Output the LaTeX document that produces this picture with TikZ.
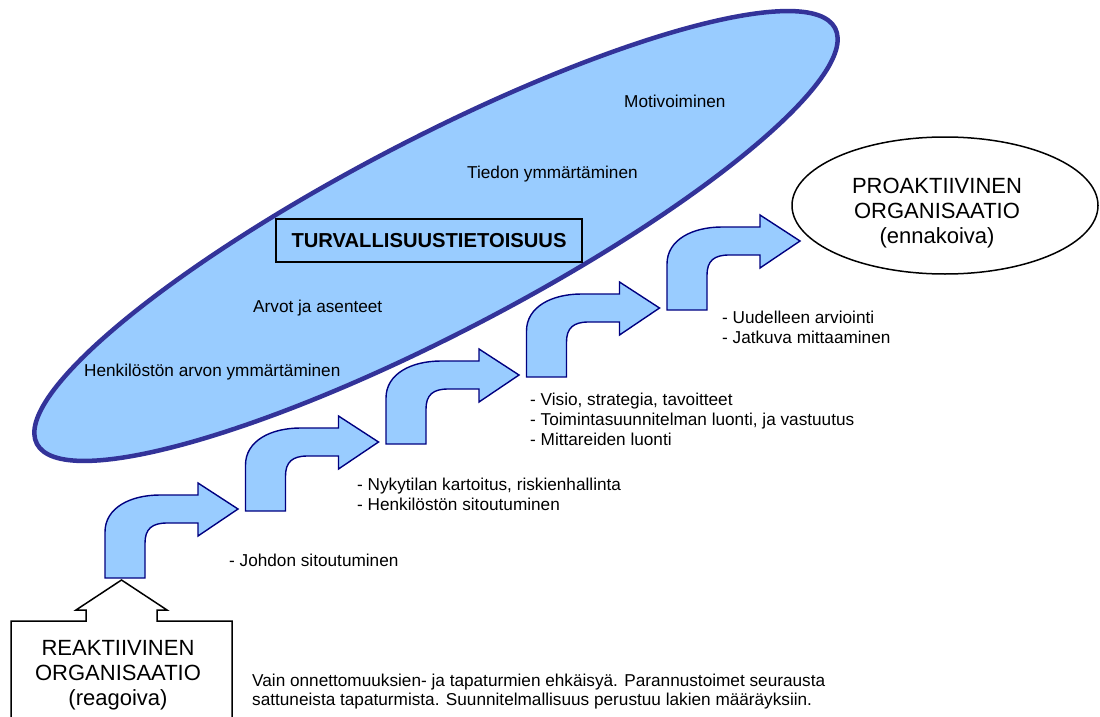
\documentclass[tikz,border=0pt]{standalone}
\usepackage{fontspec}
\setmainfont{Liberation Sans}
\usetikzlibrary{shapes.geometric}
\definecolor{skyfill}{HTML}{99CCFF}
\definecolor{ringblue}{HTML}{333399}
\definecolor{navyline}{HTML}{000080}

\begin{document}
\begin{tikzpicture}[x=1pt,y=-1pt,
  body/.style={font=\fontsize{17.2}{20}\selectfont, inner sep=0pt, anchor=base west},
  big/.style={font=\fontsize{22}{25}\selectfont, inner sep=0pt, anchor=base},
  stair/.style={draw=navyline, fill=skyfill, line width=1.4pt, line join=miter},
  pics/bentarrow/.style={code={
    \path[stair] (0,0) -- (0,-46)
      .. controls (0,-70) and (25,-83) .. (55,-83)
      -- (93,-83) -- (93,-95) -- (133,-69) -- (93,-42) -- (93,-55) -- (62,-55)
      .. controls (47,-55) and (40,-49) .. (40,-35)
      -- (40,0) -- cycle;
  }}]
\useasboundingbox (0,0) rectangle (1100,717);

% awareness ellipse
\node[ellipse, draw=ringblue, fill=skyfill, line width=4.5pt, inner sep=0pt,
      minimum width=900pt, minimum height=194pt, rotate=27.5] (aware) at (436,236) {};

\node[draw=black, fill=skyfill, line width=1.5pt, inner sep=0pt,
      minimum width=306pt, minimum height=43pt,
      font=\fontsize{20.2}{22}\selectfont\bfseries] (title) at (429,240.5) {TURVALLISUUSTIETOISUUS};

\node[body] (mot) at (624,107.5) {Motivoiminen};
\node[body] (tie) at (467,178.5) {Tiedon ymmärtäminen};
\node[body] (arv) at (253,312.5) {Arvot ja asenteet};
\node[body] (hen) at (84,376.5) {Henkilöstön arvon ymmärtäminen};

% staircase of bent arrows
\pic (s1) at (105,578) {bentarrow};
\pic (s2) at (245.5,511) {bentarrow};
\pic (s3) at (386,444) {bentarrow};
\pic (s4) at (526.5,377) {bentarrow};
\pic (s5) at (667,310) {bentarrow};

% step descriptions
\node[body] (j1) at (229,566.5) {- Johdon sitoutuminen};
\node[body] (n1) at (357,490.5) {- Nykytilan kartoitus, riskienhallinta};
\node[body] (n2) at (357,510.5) {- Henkilöstön sitoutuminen};
\node[body] (v1) at (530,405) {- Visio, strategia, tavoitteet};
\node[body] (v2) at (530,425) {- Toimintasuunnitelman luonti, ja vastuutus};
\node[body] (v3) at (530,445) {- Mittareiden luonti};
\node[body] (u1) at (722,323.5) {- Uudelleen arviointi};
\node[body] (u2) at (722,343.5) {- Jatkuva mittaaminen};

% proactive organisation
\node[ellipse, draw=black, line width=1.5pt, inner sep=0pt,
      minimum width=306pt, minimum height=137pt] (pro) at (945,205.5) {};
\node[big] (pro1) at (937,193) {PROAKTIIVINEN};
\node[big] (pro2) at (937,218) {ORGANISAATIO};
\node[big] (pro3) at (937,243) {(ennakoiva)};

% reactive organisation callout
\coordinate (tip) at (121.5,580);
\draw[line width=1.5pt, fill=white, line join=miter]
  (11,722) -- (11,621) -- (86,621) -- (86,610) -- (76,610) -- (tip)
  -- (167,610) -- (157,610) -- (157,621) -- (232,621) -- (232,722);
\node[big] (re1) at (118,655) {REAKTIIVINEN};
\node[big] (re2) at (118,680) {ORGANISAATIO};
\node[big] (re3) at (118,705) {(reagoiva)};

\node[body] (b1) at (252,686) {Vain onnettomuuksien- ja tapaturmien ehkäisyä. Parannustoimet seurausta};
\node[body] (b2) at (252,705) {sattuneista tapaturmista. Suunnitelmallisuus perustuu lakien määräyksiin.};
\end{tikzpicture}
\end{document}
